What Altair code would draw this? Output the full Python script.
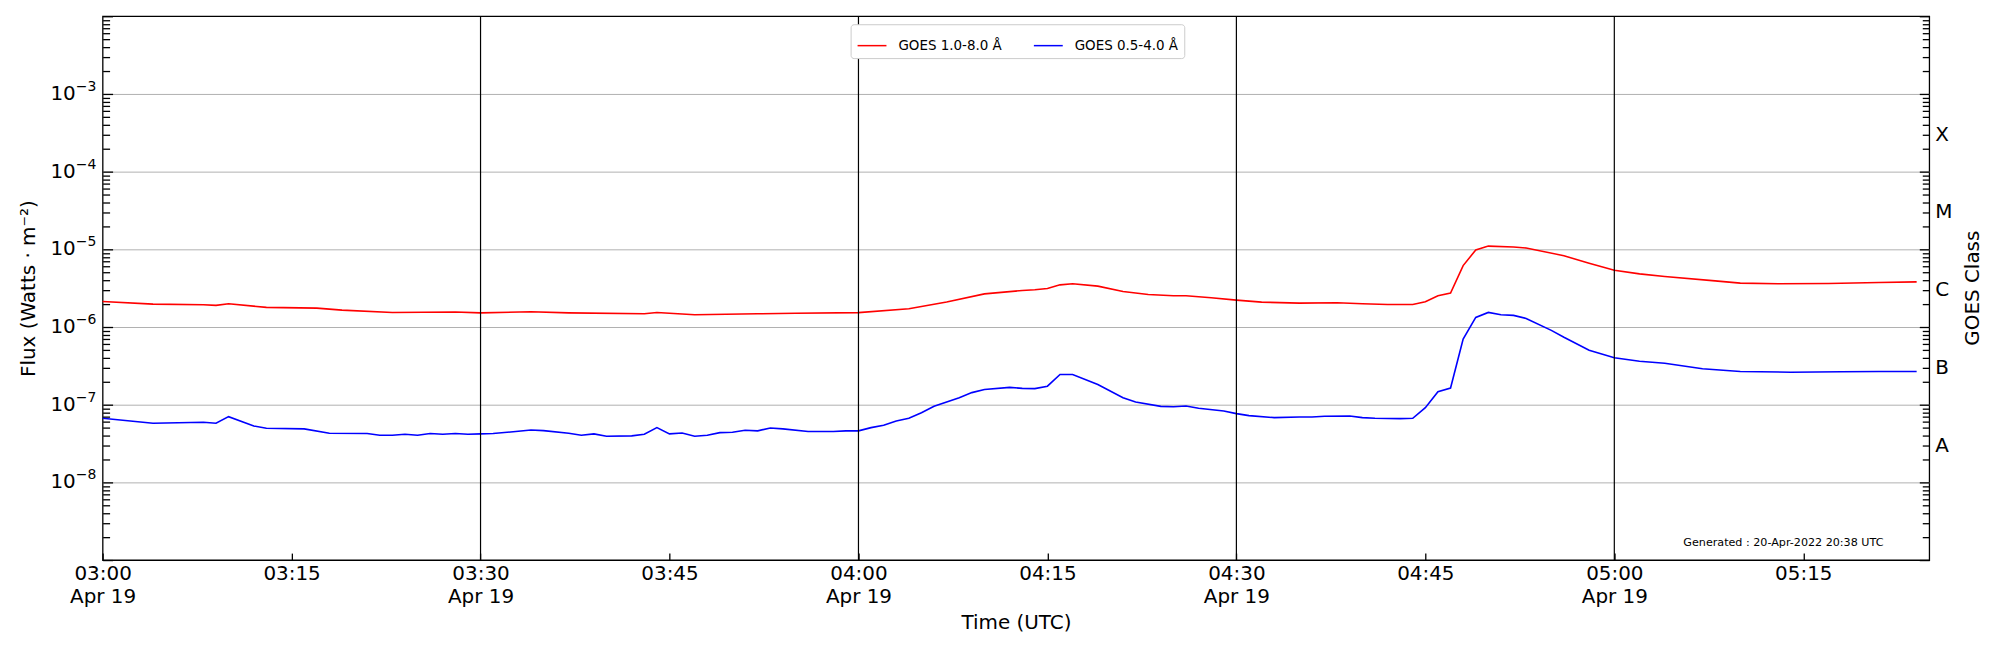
import altair as alt
import pandas as pd

DAY = "2022-04-19"

# ---- data ----
red_times = ["03:00", "03:04", "03:08", "03:09", "03:10", "03:13", "03:17", "03:19", "03:23", "03:28",
             "03:30", "03:34", "03:37", "03:43", "03:44", "03:47", "03:52", "03:55", "04:00", "04:04",
             "04:07", "04:10", "04:13", "04:14", "04:15", "04:16", "04:17", "04:19", "04:21", "04:23",
             "04:25", "04:26", "04:28", "04:30", "04:32", "04:35", "04:38", "04:40", "04:42", "04:44",
             "04:45", "04:46", "04:47", "04:48", "04:49", "04:50", "04:52", "04:53", "04:56", "04:58",
             "05:00", "05:02", "05:04", "05:08", "05:10", "05:13", "05:17", "05:21", "05:24"]
red_flux = [2.13e-6, 1.97e-6, 1.93e-6, 1.90e-6, 1.99e-6, 1.79e-6, 1.75e-6, 1.65e-6, 1.54e-6, 1.56e-6,
            1.52e-6, 1.57e-6, 1.52e-6, 1.48e-6, 1.54e-6, 1.44e-6, 1.48e-6, 1.50e-6, 1.53e-6, 1.72e-6,
            2.10e-6, 2.67e-6, 2.95e-6, 3.01e-6, 3.13e-6, 3.49e-6, 3.60e-6, 3.36e-6, 2.87e-6, 2.62e-6,
            2.52e-6, 2.52e-6, 2.38e-6, 2.22e-6, 2.09e-6, 2.03e-6, 2.05e-6, 1.99e-6, 1.95e-6, 1.95e-6,
            2.11e-6, 2.52e-6, 2.73e-6, 6.18e-6, 9.80e-6, 1.10e-5, 1.07e-5, 1.04e-5, 8.29e-6, 6.62e-6,
            5.38e-6, 4.83e-6, 4.46e-6, 3.93e-6, 3.67e-6, 3.60e-6, 3.63e-6, 3.74e-6, 3.81e-6]

blue_times = ["03:00", "03:04", "03:08", "03:09", "03:10", "03:12", "03:13", "03:16", "03:18", "03:21",
              "03:22", "03:23", "03:24", "03:25", "03:26", "03:27", "03:28", "03:29", "03:30", "03:31",
              "03:33", "03:34", "03:35", "03:37", "03:38", "03:39", "03:40", "03:42", "03:43", "03:44",
              "03:45", "03:46", "03:47", "03:48", "03:49", "03:50", "03:51", "03:52", "03:53", "03:54",
              "03:56", "03:58", "03:59", "04:00", "04:01", "04:02", "04:03", "04:04", "04:05", "04:06",
              "04:08", "04:09", "04:10", "04:12", "04:13", "04:14", "04:15", "04:16", "04:17", "04:19",
              "04:21", "04:22", "04:24", "04:25", "04:26", "04:27", "04:29", "04:30", "04:31", "04:33",
              "04:35", "04:36", "04:37", "04:39", "04:40", "04:41", "04:43", "04:44", "04:45", "04:46",
              "04:47", "04:48", "04:49", "04:50", "04:51", "04:52", "04:53", "04:55", "04:56", "04:58",
              "05:00", "05:02", "05:04", "05:07", "05:10", "05:14", "05:18", "05:21", "05:24"]
blue_flux = [6.68e-8, 5.77e-8, 5.94e-8, 5.77e-8, 7.02e-8, 5.32e-8, 4.97e-8, 4.88e-8, 4.29e-8, 4.25e-8,
             4.04e-8, 4.04e-8, 4.17e-8, 4.04e-8, 4.25e-8, 4.17e-8, 4.25e-8, 4.17e-8, 4.21e-8, 4.25e-8,
             4.55e-8, 4.73e-8, 4.64e-8, 4.29e-8, 4.04e-8, 4.21e-8, 3.93e-8, 3.97e-8, 4.17e-8, 5.07e-8,
             4.21e-8, 4.33e-8, 3.93e-8, 4.04e-8, 4.37e-8, 4.42e-8, 4.69e-8, 4.60e-8, 5.02e-8, 4.88e-8,
             4.51e-8, 4.51e-8, 4.60e-8, 4.60e-8, 5.07e-8, 5.43e-8, 6.18e-8, 6.68e-8, 7.89e-8, 9.52e-8,
             1.23e-7, 1.43e-7, 1.57e-7, 1.67e-7, 1.62e-7, 1.61e-7, 1.73e-7, 2.45e-7, 2.45e-7, 1.82e-7,
             1.23e-7, 1.08e-7, 9.52e-8, 9.42e-8, 9.61e-8, 8.98e-8, 8.30e-8, 7.67e-8, 7.23e-8, 6.81e-8,
             6.95e-8, 6.95e-8, 7.09e-8, 7.16e-8, 6.81e-8, 6.68e-8, 6.61e-8, 6.68e-8, 9.16e-8, 1.47e-7,
             1.64e-7, 7.01e-7, 1.33e-6, 1.54e-6, 1.44e-6, 1.41e-6, 1.29e-6, 9.06e-7, 7.37e-7, 5.03e-7,
             4.01e-7, 3.63e-7, 3.42e-7, 2.90e-7, 2.68e-7, 2.62e-7, 2.65e-7, 2.68e-7, 2.68e-7]

series_names = ["GOES 1.0-8.0 Å", "GOES 0.5-4.0 Å"]
series_colors = ["#ff0000", "#0000ff"]

vline_times = ["03:30", "04:00", "04:30", "05:00"]
xtick_times = ["03:00", "03:15", "03:30", "03:45", "04:00", "04:15", "04:30", "04:45", "05:00", "05:15"]
decades = [1e-8, 1e-7, 1e-6, 1e-5, 1e-4, 1e-3]
exponents = ["−8", "−7", "−6", "−5", "−4", "−3"]
frame_decades = [1e-9, 1e-8, 1e-7, 1e-6, 1e-5, 1e-4, 1e-3, 1e-2]
minor_ticks = [m * 10.0 ** e for e in range(-9, -2) for m in range(2, 10)]
class_labels = ["A", "B", "C", "M", "X"]
class_flux = [3.16e-8, 3.16e-7, 3.16e-6, 3.16e-5, 3.16e-4]
generated_text = "Generated : 20-Apr-2022 20:38 UTC"

W, H = 1834, 546
FONT = "DejaVu Sans"


def iso(t):
    return f"{DAY}T{t}:00Z"


def dt(t):
    h, m = t.split(":")
    return alt.DateTime(year=2022, month=4, date=19, hours=int(h), minutes=int(m), utc=True)


lines_df = pd.concat([
    pd.DataFrame({"time": [iso(t) for t in red_times], "flux": red_flux, "series": series_names[0]}),
    pd.DataFrame({"time": [iso(t) for t in blue_times], "flux": blue_flux, "series": series_names[1]}),
])

xscale = alt.Scale(type="utc", domain=[dt("03:00"), dt("05:25")], nice=False)
yscale = alt.Scale(type="log", domain=[1e-9, 1e-2], nice=False)

x_label_expr = ("utcminutes(datum.value) % 30 == 0 ? "
                "[utcFormat(datum.value, '%H:%M'), utcFormat(datum.value, '%b %d')] : "
                "utcFormat(datum.value, '%H:%M')")

# bottom axis: moved 7px into the plot so that its ticks point inward
lines = alt.Chart(lines_df).mark_line(strokeWidth=1.6).encode(
    x=alt.X("time:T", scale=xscale,
            axis=alt.Axis(values=[dt(t) for t in xtick_times], labelExpr=x_label_expr,
                          offset=-7, ticks=True, tickSize=7, tickWidth=1.3, tickColor="black",
                          domain=False, grid=False, labelFlush=False, zindex=1,
                          labelFontSize=20, labelPadding=4, labelLineHeight=23,
                          labelColor="black", labelFont=FONT, labelBaseline="top",
                          title="Time (UTC)", titleFontSize=20, titleFontWeight="normal",
                          titleColor="black", titleFont=FONT, titlePadding=6)),
    y=alt.Y("flux:Q", scale=yscale,
            axis=alt.Axis(values=decades, labels=False, ticks=False, domain=False,
                          grid=True, gridColor="#b0b0b0", gridWidth=1,
                          title="Flux (Watts · m⁻²)", titleFontSize=20, titleFontWeight="normal",
                          titleColor="black", titleFont=FONT, titlePadding=64)),
    color=alt.Color("series:N", scale=alt.Scale(domain=series_names, range=series_colors),
                    legend=alt.Legend(orient="none", legendX=751, legendY=8, direction="horizontal",
                                      title=None, symbolType="stroke", symbolSize=841,
                                      symbolStrokeWidth=1.5, labelFontSize=13.5, labelFont=FONT,
                                      labelColor="black", labelOffset=11, columnPadding=29,
                                      padding=6, strokeColor="#cccccc", cornerRadius=3,
                                      fillColor="white")),
)

vlines = alt.Chart(pd.DataFrame({"time": [iso(t) for t in vline_times]})).mark_rule(
    color="black", strokeWidth=1.2).encode(x=alt.X("time:T", scale=xscale, axis=None))


def tick_axis(values, field, orient, length):
    # an axis used only for its inward tick marks (offset into the plot)
    df = pd.DataFrame({field: values})
    return alt.Chart(df).mark_point(opacity=0).encode(
        y=alt.Y(f"{field}:Q", scale=yscale,
                axis=alt.Axis(orient=orient, values=values, offset=-length, ticks=True,
                              tickSize=length, tickWidth=1.3, tickColor="black", zindex=1,
                              labels=False, domain=False, grid=False, title=None)),
        x=alt.value(0))


ylabels_df = pd.DataFrame({"v": decades, "base": ["10"] * len(decades), "exp": exponents})
ylab_base = alt.Chart(ylabels_df).mark_text(
    align="right", baseline="middle", fontSize=20, font=FONT, color="black").encode(
    y=alt.Y("v:Q", scale=yscale, axis=None), x=alt.value(-27), text="base:N")
ylab_exp = alt.Chart(ylabels_df).mark_text(
    align="left", baseline="middle", fontSize=14, font=FONT, color="black", dy=-7).encode(
    y=alt.Y("v:Q", scale=yscale, axis=None), x=alt.value(-27), text="exp:N")

class_df = pd.DataFrame({"cv": class_flux, "label": class_labels})
class_text = alt.Chart(class_df).mark_text(
    align="left", baseline="middle", fontSize=20, font=FONT, color="black", dy=2).encode(
    y=alt.Y("cv:Q", scale=yscale, axis=None), x=alt.value(W + 6), text="label:N")

class_title = alt.Chart(pd.DataFrame({"t": ["GOES Class"]})).mark_text(
    align="center", baseline="middle", fontSize=20, font=FONT, color="black", angle=270).encode(
    x=alt.value(W + 44), y=alt.value(H / 2), text="t:N")

gen = alt.Chart(pd.DataFrame({"t": [generated_text]})).mark_text(
    align="right", baseline="middle", fontSize=11.2, font=FONT, color="black").encode(
    x=alt.value(W - 46), y=alt.value(H - 17), text="t:N")

chart = alt.layer(
    lines, vlines,
    tick_axis(frame_decades, "major_l", "left", 10),
    tick_axis(minor_ticks, "minor_l", "left", 7),
    tick_axis(frame_decades, "major_r", "right", 10),
    tick_axis(minor_ticks, "minor_r", "right", 7),
    ylab_base, ylab_exp, class_text, class_title, gen,
).resolve_axis(x="independent", y="independent").properties(
    width=W, height=H,
    autosize=alt.AutoSizeParams(type="none"),
    padding={"left": 95, "top": 7, "right": 63, "bottom": 89},
).configure(font=FONT, background="white").configure_view(stroke="black", strokeWidth=1.3)

chart.save("out.html", embed_options={"renderer": "svg", "actions": False})
